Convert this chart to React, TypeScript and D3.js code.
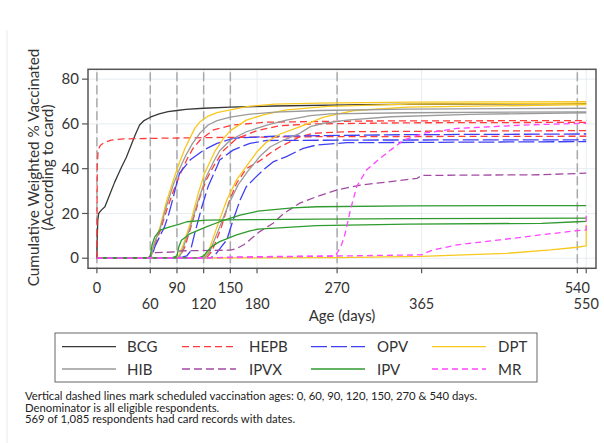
import React from 'react';
import * as d3 from 'd3';

type Pt = [number, number];

// ---- data: [age in days, cumulative weighted % vaccinated] ----
const bcg: Pt[] = [[0,0],[0.3,8],[1,17],[2,20],[5,21.5],[9,23],[12,26],[16,30],[20,34],[24,37.5],[28,41],[33,45],[38,50],[43,55],[48,59.5],[53,61.5],[60,63],[70,64.5],[80,65.5],[90,66],[100,66.5],[120,67],[150,67.5],[200,68],[300,68.6],[400,68.9],[550,69.1]];
const hepb0: Pt[] = [[0,0],[0.2,25],[0.5,42],[1.5,48.5],[4,50.5],[9,51.8],[16,52.8],[30,53.3],[70,53.6],[150,54],[250,54.3],[550,54.5]];
const hepb1: Pt[] = [[0,0],[59,0],[61,1],[64,5],[71,12],[78,21],[86,30],[93,37],[101,44],[108,49],[116,52.8],[131,57.3],[153,59.5],[191,60.8],[300,61.3],[550,61.5]];
const hepb2: Pt[] = [[0,0],[90,0],[93,0.5],[99,5.2],[108,17],[116,27.5],[123,35],[131,41],[142,48],[157,53.5],[180,57],[206,59.2],[243,60],[350,60.5],[550,60.7]];
const hepb3: Pt[] = [[0,0],[120,0],[124,0.5],[129,3],[133,6.7],[140,14],[148,24.6],[157,33.5],[168,40],[183,43.5],[195,47],[206,49.8],[217,52],[228,54.3],[243,55.8],[281,56.5],[400,56.8],[550,57]];
const opv1: Pt[] = [[0,0],[60,0],[62,1],[65,5],[71,10],[76,14],[81,20],[86,27.5],[90,34],[93,38],[105,44],[120,48.3],[135,51.3],[153,53.6],[200,54.5],[350,55.2],[550,55.5]];
const opv2: Pt[] = [[0,0],[90,0],[96,0.5],[101,1],[105,3],[110,11.2],[118,23],[125,32],[135,41],[138,43.9],[153,48.3],[172,51.3],[191,52.6],[300,52.8],[550,52.9]];
const opv3: Pt[] = [[0,0],[120,0],[128,0.3],[133,1.5],[140,5.2],[146,8.2],[153,17],[161,26],[168,32],[178,36],[187,39.4],[198,43],[213,45.4],[232,49.1],[247,50.6],[281,51.6],[550,52.1]];
const dpt1: Pt[] = [[0,0],[59,0],[61,1],[64,6],[71,14],[78,25],[86,35],[93,43],[99,49],[105,54],[110,58],[116,61],[125,63.5],[135,65],[150,66.3],[170,67.8],[200,68.8],[250,69.3],[350,69.7],[550,70]];
const dpt2: Pt[] = [[0,0],[90,0],[92,1],[97,6],[105,15.6],[114,29],[121,38],[127,43],[133,48],[142,53.3],[150,57],[168,61.7],[187,64],[213,66.3],[260,67.8],[350,68.8],[550,69.3]];
const dpt3: Pt[] = [[0,0],[120,0],[122,1],[125,2.5],[135,14],[146,26],[157,35],[168,41],[180,47.6],[191,52],[206,55.5],[230,59],[255,63],[290,66],[350,67.5],[550,68.6]];
const dpt4: Pt[] = [[0,0],[270,0.3],[365,0.8],[420,1.6],[461,2.2],[510,3.7],[540,4.9],[550,5.5],[550,15]];
const hib1: Pt[] = [[0,0],[60,0],[61,1],[64,6],[71,13],[78,23],[86,33],[93,40],[100,46],[107,51],[116,56],[125,59.5],[135,61.5],[150,63],[170,64.3],[200,65.3],[250,66],[350,66.6],[550,67]];
const hib2: Pt[] = [[0,0],[90,0],[92,0.5],[95,2.2],[105,14],[114,26],[123,36.4],[131,43],[138,48],[150,52.8],[168,56.5],[191,59.5],[213,61.7],[240,63.7],[262,64.5],[350,65],[550,65.4]];
const hib3: Pt[] = [[0,0],[120,0],[123,1],[127,3],[137,13],[148,24],[159,33],[170,39],[183,45.4],[195,49.8],[210,52.8],[228,55.8],[240,58.8],[255,60.3],[281,61.7],[330,63.2],[420,64.3],[550,65]];
const ipvx: Pt[] = [[0,0],[58,0],[61,1.5],[66,2.5],[88,2.8],[93,3.3],[150,3.6],[158,4.5],[165,6],[172,8.2],[183,11.9],[198,15.6],[210,20],[228,24.6],[247,27.5],[270,30.5],[296,32.7],[330,34.2],[360,35.7],[365,37],[500,37.3],[550,38]];
const ipv1: Pt[] = [[0,0],[40,0.2],[58,0.4],[60,1],[62,6],[65,9.5],[71,12.6],[82,14],[93,15.2],[101,16.3],[123,17],[172,17.2],[250,17.5],[350,17.7],[550,17.9]];
const ipv2: Pt[] = [[0,0],[85,0.3],[90,1],[92,5],[95,8],[105,11],[123,14],[138,16.3],[161,19.3],[181,21],[220,22.5],[247,23],[350,23.4],[550,23.5]];
const ipv3: Pt[] = [[0,0],[115,0.3],[120,1],[124,3],[129,5.2],[138,7.4],[157,10.4],[172,12.2],[181,13],[247,14.6],[350,15.2],[500,15.6],[540,16.3],[550,16.5]];
const mr1: Pt[] = [[0,0],[120,0],[150,0.5],[200,0.8],[268,1],[271,3],[275,6],[279,11],[285,21.6],[292,32],[303,39.4],[316,43.9],[330,48.3],[345,52.8],[367,55.8],[405,58],[480,59.5],[550,60.3]];
const mr2: Pt[] = [[0,0],[150,0.3],[270,1],[365,1.5],[370,2.5],[378,3.7],[405,6],[453,8.2],[498,10.4],[540,12.3],[550,12.6],[550,21]];

const xTicksRow1 = [0, 90, 150, 270, 540];
const xTicksRow2 = [60, 120, 180, 365, 550];
const yTicks = [0, 20, 40, 60, 80];
const scheduleDays = [0, 60, 90, 120, 150, 270, 540];
const legendNames = ['BCG', 'HEPB', 'OPV', 'DPT', 'HIB', 'IPVX', 'IPV', 'MR'];
const footnotes = [
  'Vertical dashed lines mark scheduled vaccination ages: 0, 60, 90, 120, 150, 270 & 540 days.',
  'Denominator is all eligible respondents.',
  '569 of 1,085 respondents had card records with dates.',
];

const styles: Record<string, { color: string; dash: string | null }> = {
  BCG: { color: '#383838', dash: null },
  HEPB: { color: '#ff3b3b', dash: '7,4' },
  OPV: { color: '#3f3ff5', dash: '16,4' },
  DPT: { color: '#f8c81e', dash: null },
  HIB: { color: '#9a9a9a', dash: null },
  IPVX: { color: '#a24aa2', dash: '8,4' },
  IPV: { color: '#2f9a2f', dash: null },
  MR: { color: '#ff45ff', dash: '6,4' },
};

const series: { name: string; data: Pt[] }[] = [
  { name: 'BCG', data: bcg },
  { name: 'HEPB', data: hepb0 },
  { name: 'HEPB', data: hepb1 },
  { name: 'HEPB', data: hepb2 },
  { name: 'HEPB', data: hepb3 },
  { name: 'OPV', data: opv1 },
  { name: 'OPV', data: opv2 },
  { name: 'OPV', data: opv3 },
  { name: 'DPT', data: dpt1 },
  { name: 'DPT', data: dpt2 },
  { name: 'DPT', data: dpt3 },
  { name: 'DPT', data: dpt4 },
  { name: 'HIB', data: hib1 },
  { name: 'HIB', data: hib2 },
  { name: 'HIB', data: hib3 },
  { name: 'IPVX', data: ipvx },
  { name: 'IPV', data: ipv1 },
  { name: 'IPV', data: ipv2 },
  { name: 'IPV', data: ipv3 },
  { name: 'MR', data: mr1 },
  { name: 'MR', data: mr2 },
];

export default function App() {
  const W = 604, H = 443;
  const left = 88, right = 596, top = 69.3, bottom = 268.3;
  const x = d3.scaleLinear().domain([-10, 561]).range([left, right]);
  const y = d3.scaleLinear().domain([-4.5, 84.4]).range([bottom, top]);
  const line = d3.line<Pt>().x(d => x(d[0])).y(d => y(d[1]));
  const gridColor = '#e6edf1';
  const allXTicks = [...xTicksRow1, ...xTicksRow2];

  const legendCols = [62, 182, 311, 432];
  const legendLabelX = [127, 249, 377, 498];
  const legendRows = [346.7, 369];

  return (
    <div style={{ position: 'absolute', left: 0, top: 0 }}>
      <svg width={W} height={H} style={{ display: 'block', background: '#fff' }} fontFamily="Lato, 'Open Sans', sans-serif">
        <defs>
          <clipPath id="plotclip">
            <rect x={left} y={top} width={right - left} height={bottom - top} />
          </clipPath>
        </defs>
        <line x1={7} x2={7} y1={30} y2={H} stroke="#e4ecf0" strokeWidth={1} />
        {/* grid */}
        {yTicks.map(t => (
          <line key={'gy' + t} x1={left} x2={right} y1={y(t)} y2={y(t)} stroke={gridColor} strokeWidth={1} />
        ))}
        {allXTicks.map(t => (
          <line key={'gx' + t} x1={x(t)} x2={x(t)} y1={top} y2={bottom} stroke={gridColor} strokeWidth={1} />
        ))}
        {/* scheduled ages */}
        {scheduleDays.map(t => (
          <line key={'sd' + t} x1={x(t)} x2={x(t)} y1={top + 3} y2={bottom} stroke="#a9a9a9" strokeWidth={1.5} strokeDasharray="9,4" />
        ))}
        {/* series */}
        <g clipPath="url(#plotclip)">
          {series.map((s, i) => (
            <path key={i} d={line(s.data) || ''} fill="none" stroke={styles[s.name].color}
              strokeWidth={1.3} strokeDasharray={styles[s.name].dash || undefined} strokeLinejoin="round" />
          ))}
        </g>
        {/* frame */}
        <rect x={left} y={top} width={right - left} height={bottom - top} fill="none" stroke="#555" strokeWidth={1.5} />
        {/* y axis */}
        {yTicks.map(t => (
          <g key={'yt' + t}>
            <line x1={left - 6} x2={left} y1={y(t)} y2={y(t)} stroke="#555" strokeWidth={1.2} />
            <text x={79} y={y(t)} dy="0.35em" textAnchor="end" fontSize={15} fill="#333">{t}</text>
          </g>
        ))}
        <text transform={`translate(38.5,167.5) rotate(-90)`} textAnchor="middle" fontSize={15.3} fill="#333">Cumulative Weighted % Vaccinated</text>
        <text transform={`translate(53,167.5) rotate(-90)`} textAnchor="middle" fontSize={15.3} fill="#333">(According to card)</text>
        {/* x axis */}
        {allXTicks.map(t => (
          <line key={'xt' + t} x1={x(t)} x2={x(t)} y1={bottom} y2={bottom + 5} stroke="#555" strokeWidth={1.2} />
        ))}
        {xTicksRow1.map(t => (
          <text key={'xl1' + t} x={x(t)} y={292.5} textAnchor="middle" fontSize={14.5} fill="#333">{t}</text>
        ))}
        {xTicksRow2.map(t => (
          <text key={'xl2' + t} x={x(t)} y={308.5} textAnchor="middle" fontSize={14.5} fill="#333">{t}</text>
        ))}
        <text x={(left + right) / 2} y={321} textAnchor="middle" fontSize={15} fill="#333">Age (days)</text>
        {/* legend */}
        <rect x={55} y={333} width={482} height={49} fill="#fff" stroke="#666" strokeWidth={1} />
        {legendNames.map((n, i) => {
          const col = i % 4, row = Math.floor(i / 4);
          const ly = legendRows[row];
          return (
            <g key={'lg' + n}>
              <line x1={legendCols[col]} x2={legendCols[col] + 54} y1={ly} y2={ly} stroke={styles[n].color}
                strokeWidth={1.3} strokeDasharray={styles[n].dash || undefined} />
              <text x={legendLabelX[col]} y={ly + 5.5} fontSize={15} fill="#333">{n}</text>
            </g>
          );
        })}
        {/* footnotes */}
        {footnotes.map((f, i) => (
          <text key={'fn' + i} x={25} y={400 + i * 11.5} fontSize={11.3} fill="#222">{f}</text>
        ))}
      </svg>
    </div>
  );
}
